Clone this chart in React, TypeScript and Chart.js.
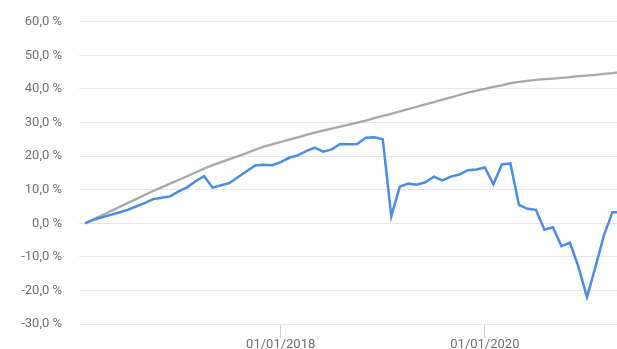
import React, { useEffect, useRef } from "react";
import { Chart, registerables } from "chart.js";

Chart.register(...registerables);

// Monthly dates from 01/02/2016 to 01/05/2021
const months: string[] = [];
for (let y = 2016; y <= 2021; y++) {
  for (let m = 1; m <= 12; m++) {
    if (y === 2016 && m < 2) continue;
    if (y === 2021 && m > 5) continue;
    months.push(`01/${String(m).padStart(2, "0")}/${y}`);
  }
}
const labels = months;
const shownTicks = ["01/01/2018", "01/01/2020"];

const portfolio = [
  0, 1.0, 1.8, 2.5, 3.2, 4.0, 5.0, 6.0, 7.2, 7.6,
  8.0, 9.5, 10.7, 12.5, 14.0, 10.6, 11.3, 12.0, 13.8, 15.5,
  17.2, 17.4, 17.3, 18.2, 19.5, 20.2, 21.5, 22.5, 21.3, 22.0,
  23.6, 23.5, 23.6, 25.5, 25.6, 25.0, 2.1, 10.9, 11.8, 11.5,
  12.2, 13.9, 12.8, 13.9, 14.5, 15.8, 16.0, 16.6, 11.6, 17.5,
  17.8, 5.5, 4.3, 4.0, -1.9, -1.2, -6.8, -5.8, -13.0, -22.0,
  -13.0, -3.5, 3.3, 3.3,
];

const benchmark = [
  0, 1.2, 2.4, 3.6, 4.8, 6.0, 7.2, 8.4, 9.6, 10.7,
  11.8, 12.9, 14.0, 15.1, 16.3, 17.3, 18.2, 19.1, 20.0, 20.9,
  21.9, 22.8, 23.5, 24.2, 24.9, 25.6, 26.3, 27.0, 27.6, 28.2,
  28.8, 29.4, 30.0, 30.6, 31.3, 32.0, 32.6, 33.3, 34.0, 34.7,
  35.4, 36.1, 36.8, 37.5, 38.2, 38.9, 39.5, 40.0, 40.6, 41.1,
  41.7, 42.1, 42.4, 42.7, 42.9, 43.1, 43.3, 43.5, 43.8, 44.0,
  44.2, 44.5, 44.7, 45.0,
];

const yMin = -30;
const yMax = 60;
const yStep = 10;

export default function App() {
  const ref = useRef<HTMLCanvasElement>(null);
  useEffect(() => {
    if (!ref.current) return;
    const chart = new Chart(ref.current, {
      type: "line",
      data: {
        labels,
        datasets: [
          {
            data: portfolio,
            borderColor: "#4a8de6",
            borderWidth: 2.5,
            pointRadius: 0,
            tension: 0,
            fill: false,
          },
          {
            data: benchmark,
            borderColor: "#a8a8a8",
            borderWidth: 2.3,
            pointRadius: 0,
            tension: 0,
            fill: false,
          },
        ],
      },
      options: {
        responsive: false,
        animation: false,
        layout: { padding: { top: 11, right: 10, left: 0, bottom: 0 } },
        plugins: { legend: { display: false }, tooltip: { enabled: false } },
        scales: {
          x: {
            type: "category",
            offset: false,
            border: { display: false },
            grid: {
              drawOnChartArea: false,
              drawTicks: true,
              tickLength: 14,
              color: (ctx: any) =>
                ctx.tick && shownTicks.includes(labels[ctx.index]) ? "#d0d0d0" : "rgba(0,0,0,0)",
            },
            ticks: {
              autoSkip: false,
              maxRotation: 0,
              padding: -1,
              color: "#707070",
              font: { family: "Roboto, 'Liberation Sans', sans-serif", size: 13 },
              callback: (_v: any, i: number) => (shownTicks.includes(labels[i]) ? labels[i] : ""),
            },
            afterFit: (s: any) => {
              s.height = 40;
            },
          },
          y: {
            min: yMin,
            max: yMax,
            border: { display: false },
            grid: { color: "#e6e6ec", drawTicks: true, tickLength: 6, lineWidth: 1 },
            ticks: {
              stepSize: yStep,
              padding: 17,
              color: "#707070",
              font: { family: "Roboto, 'Liberation Sans', sans-serif", size: 13 },
              callback: (v: any) => Number(v).toFixed(1).replace(".", ",") + " %",
            },
            afterFit: (s: any) => {
              s.width = 85;
            },
          },
        },
      },
    });
    return () => chart.destroy();
  }, []);
  return (
    <div style={{ position: "absolute", left: 0, top: 0, width: 617, height: 349, overflow: "hidden", background: "#fff" }}>
      <canvas ref={ref} width={631} height={367} style={{ display: "block", marginTop: -3 }} />
    </div>
  );
}
